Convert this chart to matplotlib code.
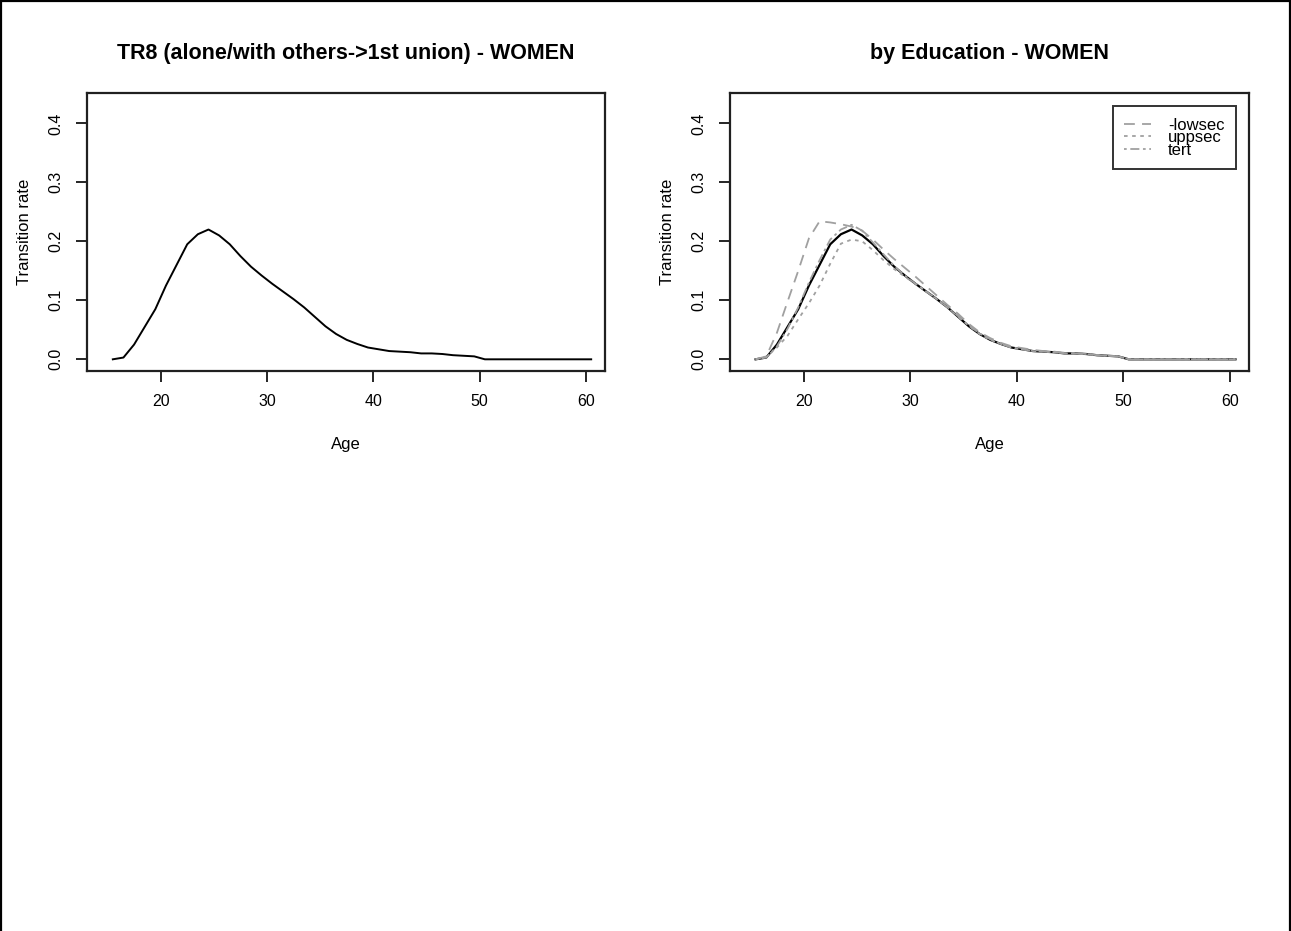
import matplotlib
matplotlib.use("Agg")
import matplotlib.pyplot as plt
from matplotlib.lines import Line2D

plt.rcParams['font.family'] = ['Liberation Sans', 'DejaVu Sans']

ages = [a + 0.5 for a in range(15, 61)]

# overall transition rate, women
total = [0.000, 0.003, 0.025, 0.055, 0.085, 0.125, 0.160, 0.195, 0.212, 0.220,
         0.210, 0.195, 0.175, 0.157, 0.142, 0.128, 0.115, 0.102, 0.088, 0.072,
         0.056, 0.043, 0.033, 0.026, 0.020, 0.017, 0.014, 0.013, 0.012, 0.010,
         0.010, 0.009, 0.007, 0.006, 0.005, 0.000, 0.000, 0.000, 0.000, 0.000,
         0.000, 0.000, 0.000, 0.000, 0.000, 0.000]

# by education level
lowsec = [0.000, 0.005, 0.045, 0.098, 0.150, 0.205, 0.234, 0.232, 0.229, 0.225,
          0.218, 0.203, 0.186, 0.170, 0.155, 0.140, 0.124, 0.108, 0.092, 0.077,
          0.060, 0.046, 0.036, 0.028, 0.022, 0.019, 0.016, 0.014, 0.013, 0.011,
          0.010, 0.009, 0.007, 0.006, 0.005, 0.000, 0.000, 0.000, 0.000, 0.000,
          0.000, 0.000, 0.000, 0.000, 0.000, 0.000]
uppsec = [0.000, 0.004, 0.020, 0.040, 0.068, 0.095, 0.125, 0.162, 0.196, 0.203,
          0.200, 0.185, 0.168, 0.153, 0.140, 0.128, 0.115, 0.102, 0.088, 0.072,
          0.057, 0.043, 0.033, 0.026, 0.020, 0.017, 0.014, 0.013, 0.012, 0.010,
          0.010, 0.009, 0.007, 0.006, 0.005, 0.000, 0.000, 0.000, 0.000, 0.000,
          0.000, 0.000, 0.000, 0.000, 0.000, 0.000]
tert = [0.000, 0.003, 0.022, 0.052, 0.088, 0.130, 0.168, 0.203, 0.220, 0.228,
        0.218, 0.198, 0.178, 0.158, 0.142, 0.128, 0.115, 0.102, 0.088, 0.073,
        0.057, 0.044, 0.034, 0.026, 0.020, 0.017, 0.014, 0.013, 0.012, 0.010,
        0.010, 0.009, 0.007, 0.006, 0.005, 0.000, 0.000, 0.000, 0.000, 0.000,
        0.000, 0.000, 0.000, 0.000, 0.000, 0.000]

edu_labels = ["-lowsec", "uppsec", "tert"]
edu_series = [lowsec, uppsec, tert]
edu_styles = [(0, (6, 4)), (0, (2, 2.5)), (0, (1.5, 2, 5, 2))]
edu_color = "#a0a0a0"

xticks = [20, 30, 40, 50, 60]
yticks = [0.0, 0.1, 0.2, 0.3, 0.4]

W, H = 1291, 931
fig = plt.figure(figsize=(W / 100, H / 100), dpi=100)


def setup(ax, title):
    ax.set_xlim(13.1, 61.8)
    ax.set_ylim(-0.0193, 0.4519)
    ax.set_xticks(xticks)
    ax.set_xticklabels([str(t) for t in xticks], fontsize=11.5)
    ax.set_yticks(yticks)
    ax.set_yticklabels(["%.1f" % t for t in yticks], fontsize=11.5,
                       rotation=90, va="center")
    ax.tick_params(direction="out", length=8, width=1.2, pad=9)
    for s in ax.spines.values():
        s.set_linewidth(1.6)
        s.set_color("#202020")
    ax.set_xlabel("Age", fontsize=12, labelpad=20)
    ax.set_ylabel("Transition rate", fontsize=12, labelpad=12)
    ax.set_title(title, fontsize=15.5, fontweight="bold", pad=24)


def box(x0, x1, y0, y1):
    return [x0 / W, 1 - y1 / H, (x1 - x0) / W, (y1 - y0) / H]


ax1 = fig.add_axes(box(87.3, 605, 92.7, 370.7))
ax1.plot(ages, total, color="black", lw=1.4)
setup(ax1, "TR8 (alone/with others->1st union) - WOMEN")

ax2 = fig.add_axes(box(730, 1249.3, 92.7, 370.7))
ax2.plot(ages, total, color="black", lw=1.6)
for vals, ls in zip(edu_series, edu_styles):
    ax2.plot(ages, vals, color=edu_color, lw=1.3, linestyle=ls)
setup(ax2, "by Education - WOMEN")

handles = [Line2D([0], [0], color=edu_color, lw=1.3, linestyle=ls) for ls in edu_styles]
leg = ax2.legend(handles, edu_labels, loc="upper right", fontsize=12,
                 frameon=True, fancybox=False, handlelength=1.6,
                 borderaxespad=0.8, labelspacing=-0.15, handletextpad=1.0,
                 borderpad=0.7)
leg.get_frame().set_edgecolor("black")
leg.get_frame().set_linewidth(1.4)

# outer frame on left, top and right
for xs, ys in [([0.001, 0.001], [0, 1]), ([0, 1], [0.999, 0.999]), ([0.999, 0.999], [0, 1])]:
    fig.add_artist(Line2D(xs, ys, color="black", lw=1.6, transform=fig.transFigure))

fig.savefig("out.png", dpi=100)
